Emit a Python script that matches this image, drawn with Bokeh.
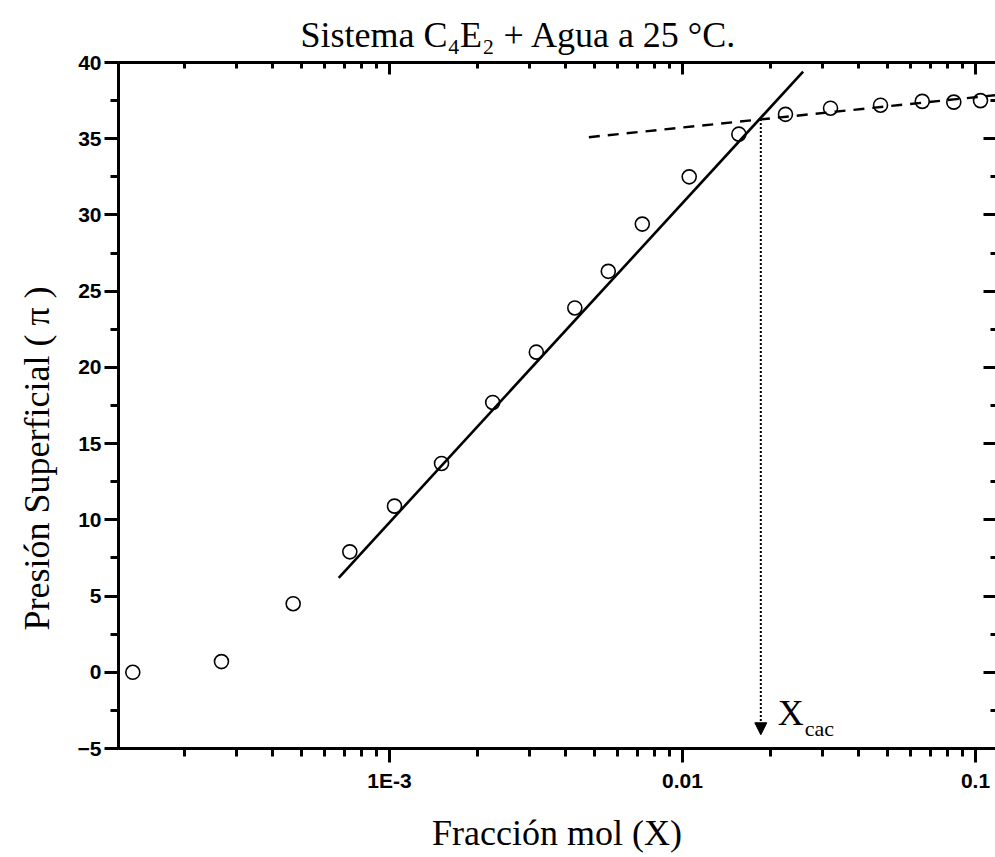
import math
from bokeh.plotting import figure
from bokeh.models import (Range1d, FixedTicker, SingleIntervalTicker, LinearAxis, LogAxis,
                          CustomJSTickFormatter, Label, Arrow, NormalHead, Title)
from bokeh.embed import file_html
from bokeh.resources import INLINE

# ---------------- data ----------------
title_text = "Sistema C\u2084E\u2082 +  Agua a 25 \u00b0C."
x_label = "Fracción mol (X)"
y_label = "Presión Superficial ( \u03c0 )"

x_frac = [1.33e-4, 2.67e-4, 4.69e-4, 7.32e-4, 1.04e-3, 1.505e-3, 2.25e-3, 3.17e-3,
          4.29e-3, 5.58e-3, 7.29e-3, 1.054e-2, 1.557e-2, 2.246e-2, 3.20e-2, 4.74e-2,
          6.58e-2, 8.43e-2, 0.104]
pi_vals = [0.0, 0.7, 4.5, 7.9, 10.9, 13.7, 17.7, 21.0, 23.9, 26.3, 29.4, 32.5,
           35.3, 36.6, 37.0, 37.2, 37.45, 37.4, 37.5]

# linear fit (pre-micellar region) end points
fit_lo_x = [6.71e-4, 2.58e-2]
fit_lo_y = [6.2, 39.4]
# plateau fit end points
fit_hi_x = [4.79e-3, 0.13]
fit_hi_y = [35.1, 37.95]

x_cac = 0.0185
pi_cac = 36.3
arrow_tip = -4.1

xtick_vals = [1e-4, 1e-3, 1e-2, 1e-1]
xtick_labels = ["1E-4", "1E-3", "0.01", "0.1"]
x_min, x_max = 1.1887e-4, 0.1170
y_min, y_max = -5, 40
y_step = 5

# ---------------- figure ----------------
SERIF = "Liberation Serif"
SANS = "Liberation Sans"

p = figure(width=995, height=857, x_axis_type="log",
           x_range=Range1d(x_min, x_max), y_range=Range1d(y_min, y_max),
           output_backend="svg", toolbar_location=None,
           min_border_left=118, min_border_right=0, min_border_top=62, min_border_bottom=109)
p.grid.visible = False
p.outline_line_color = None
p.background_fill_color = "white"
p.border_fill_color = "white"

p.title.text = title_text
p.title.text_font = SERIF
p.title.text_font_size = "36px"
p.title.text_font_style = "normal"
p.title.text_color = "black"
p.title.align = "left"
p.title.offset = 182
p.title.standoff = 16

minor_x = [k * 10 ** d for d in range(-5, 1) for k in range(2, 10)]

fmt = CustomJSTickFormatter(args=dict(vals=xtick_vals, labs=xtick_labels), code="""
for (let i = 0; i < vals.length; i++) {
  if (Math.abs(Math.log10(tick) - Math.log10(vals[i])) < 1e-6) return labs[i];
}
return "";
""")
blank = CustomJSTickFormatter(code="return ' ';")
blank2 = CustomJSTickFormatter(code="return ' ';")

# bottom axis
bx = p.below[0]
bx.ticker = FixedTicker(ticks=xtick_vals, minor_ticks=minor_x)
bx.formatter = fmt
bx.axis_line_width = 3
bx.major_tick_line_width = 3
bx.minor_tick_line_width = 3
bx.major_tick_in = 0
bx.major_tick_out = 14
bx.minor_tick_in = 0
bx.minor_tick_out = 8
bx.major_label_standoff = 6
bx.major_label_text_font = SANS
bx.major_label_text_font_style = "bold"
bx.major_label_text_font_size = "21px"
bx.major_label_text_color = "black"
bx.axis_label = x_label
bx.axis_label_text_font = SERIF
bx.axis_label_text_font_size = "36px"
bx.axis_label_text_font_style = "normal"
bx.axis_label_text_color = "black"
bx.axis_label_standoff = 18

# left axis
ly = p.left[0]
ly.ticker = SingleIntervalTicker(interval=y_step, num_minor_ticks=2)
ly.axis_line_width = 3
ly.major_tick_line_width = 3
ly.minor_tick_line_width = 3
ly.major_tick_in = 0
ly.major_tick_out = 14
ly.minor_tick_in = 0
ly.minor_tick_out = 8
ly.major_label_standoff = 3
ly.major_label_text_font = SANS
ly.major_label_text_font_style = "bold"
ly.major_label_text_font_size = "21px"
ly.major_label_text_color = "black"

# y axis title as a side title so it can be shifted along the axis
ytitle = Title(text=y_label, align="left", offset=118, standoff=32,
               vertical_align="top",
               text_font=SERIF, text_font_size="36px", text_font_style="normal",
               text_color="black")
p.add_layout(ytitle, "left")

# top axis (ticks inward, no labels)
tx = LogAxis(ticker=FixedTicker(ticks=xtick_vals, minor_ticks=minor_x), formatter=blank,
             axis_line_width=3, major_tick_line_width=3, minor_tick_line_width=3,
             major_tick_in=12, major_tick_out=0, minor_tick_in=6, minor_tick_out=0,
             major_label_text_font_size="1px", major_label_text_alpha=0,
             major_label_standoff=0)
p.add_layout(tx, "above")

# right axis (ticks inward, no labels, spine outside the picture)
ry = LinearAxis(ticker=SingleIntervalTicker(interval=y_step, num_minor_ticks=2), formatter=blank2,
                axis_line_color=None, major_tick_line_width=3, minor_tick_line_width=3,
                major_tick_in=12, major_tick_out=0, minor_tick_in=5, minor_tick_out=0,
                major_label_text_font_size="1px", major_label_text_alpha=0,
                major_label_standoff=0)
p.add_layout(ry, "right")

# ---------------- marks ----------------
p.scatter(x_frac, pi_vals, marker="circle", size=14, fill_color=None,
          line_color="black", line_width=1.6)
p.line(fit_lo_x, fit_lo_y, line_color="black", line_width=2.6)
p.line(fit_hi_x, fit_hi_y, line_color="black", line_width=2.4, line_dash="11 8")

p.add_layout(Arrow(end=NormalHead(size=12, fill_color="black", line_color="black", line_width=1),
                   x_start=x_cac, y_start=pi_cac, x_end=x_cac, y_end=arrow_tip,
                   line_color="black", line_width=2, line_dash="2 2"))

p.add_layout(Label(x=x_cac, y=y_min, x_offset=17, y_offset=36, text="X",
                   text_font=SERIF, text_font_size="36px", text_align="left",
                   text_baseline="alphabetic", text_color="black"))
p.add_layout(Label(x=x_cac, y=y_min, x_offset=44, y_offset=20, text="cac",
                   text_font=SERIF, text_font_size="22px", text_align="left",
                   text_baseline="alphabetic", text_color="black"))

open("out.html", "w").write(file_html(p, INLINE))
